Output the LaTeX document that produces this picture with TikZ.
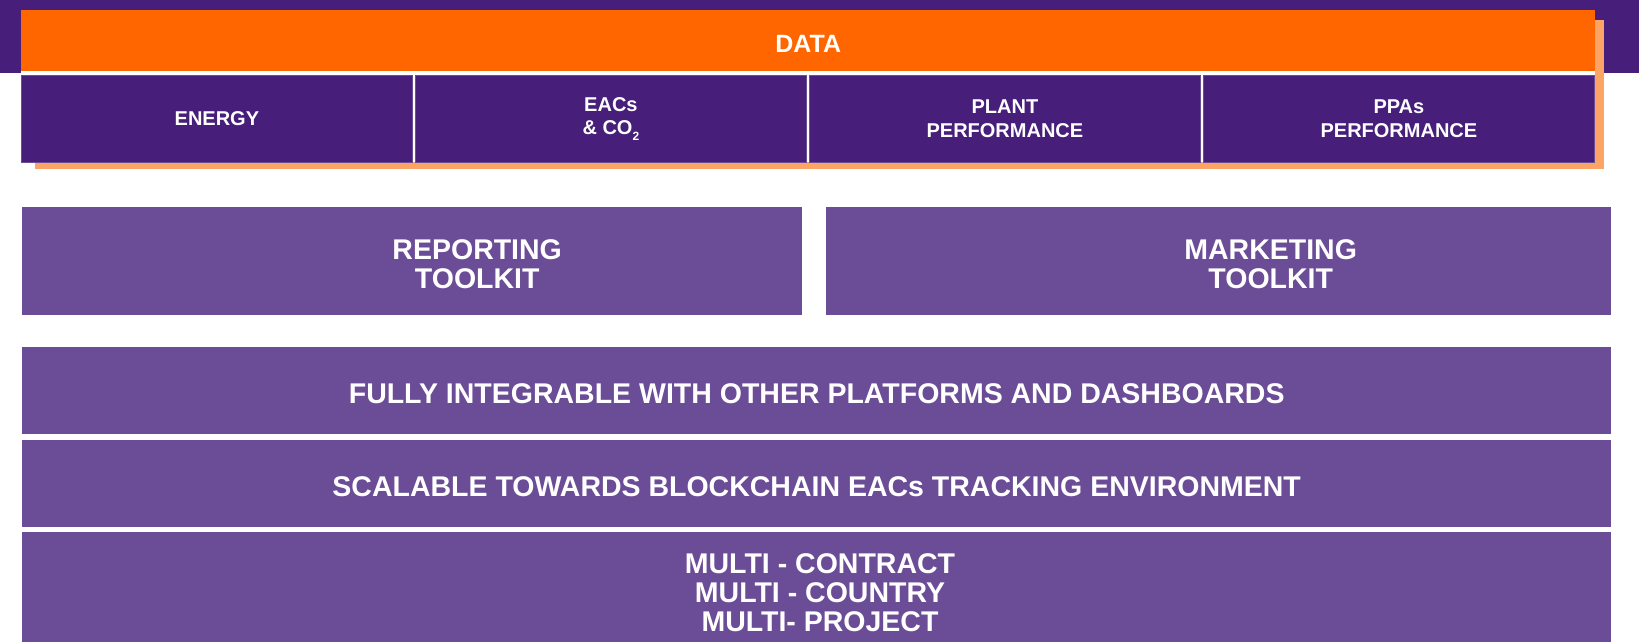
\documentclass[tikz,border=0pt]{standalone}
\usepackage{fontspec}
\setmainfont{Liberation Sans}
\definecolor{darkpurple}{RGB}{71,31,123}
\definecolor{midpurple}{RGB}{107,76,150}
\definecolor{dataorange}{RGB}{255,102,0}
\definecolor{shadoworange}{RGB}{252,163,102}

\begin{document}
\begin{tikzpicture}[x=1pt, y=-1pt,
  box/.style={fill=midpurple, inner sep=0pt, anchor=north west},
  cell/.style={fill=darkpurple, draw=midpurple, line width=0.8pt, inner sep=0pt, anchor=north west,
    minimum width=391pt, minimum height=87pt, text=white, align=center,
    font=\fontsize{20}{24}\selectfont\bfseries},
  bigtext/.style={text=white, align=center, yshift=-3pt, font=\fontsize{28.5}{29}\selectfont\bfseries}]

  \useasboundingbox (0,0) rectangle (1639,641);

  % Banda superior
  \fill[darkpurple] (0,0) rectangle (1639,73);
  % Sombra
  \fill[shadoworange] (35,20) rectangle (1604,169);
  \fill[white] (21,71) rectangle (1595,162);

  % DATA
  \node[fill=dataorange, minimum width=1574pt, minimum height=61pt, inner sep=0pt, anchor=north west] (data) at (21,10) {};
  \node[text=white, yshift=-3pt, font=\fontsize{25}{25}\selectfont\bfseries] (datatxt) at (data.center) {DATA};

  % Celdas
  \node[cell] (energy) at (21,75) {ENERGY};
  \node[cell] (eacs) at (415,75) {EACs\\[-1pt]\& CO\raisebox{-6pt}{\fontsize{12}{12}\selectfont 2}};
  \node[cell] (plant) at (809,75) {PLANT\\PERFORMANCE};
  \node[cell] (ppas) at (1203,75) {PPAs\\PERFORMANCE};

  % Toolkits
  \node[box, minimum width=780pt, minimum height=108pt] (report) at (22,207) {};
  \node[bigtext, xshift=65pt] (reporttxt) at (report.center) {REPORTING\\TOOLKIT};
  \node[box, minimum width=785pt, minimum height=108pt] (market) at (826,207) {};
  \node[bigtext, xshift=52pt] (markettxt) at (market.center) {MARKETING\\TOOLKIT};

  % Franjas
  \node[box, minimum width=1589pt, minimum height=87pt] (fully) at (22,347) {};
  \node[bigtext] (fullytxt) at (fully.center) {FULLY INTEGRABLE WITH OTHER PLATFORMS AND DASHBOARDS};
  \node[box, minimum width=1589pt, minimum height=87pt] (scal) at (22,440) {};
  \node[bigtext] (scaltxt) at (scal.center) {SCALABLE TOWARDS BLOCKCHAIN EACs TRACKING ENVIRONMENT};
  \node[box, minimum width=1589pt, minimum height=120pt] (multi) at (22,532) {};
  \node[bigtext, font=\fontsize{28.5}{29}\selectfont\bfseries] (multitxt) at (820,590) {MULTI - CONTRACT\\MULTI - COUNTRY\\MULTI- PROJECT};
\end{tikzpicture}
\end{document}
